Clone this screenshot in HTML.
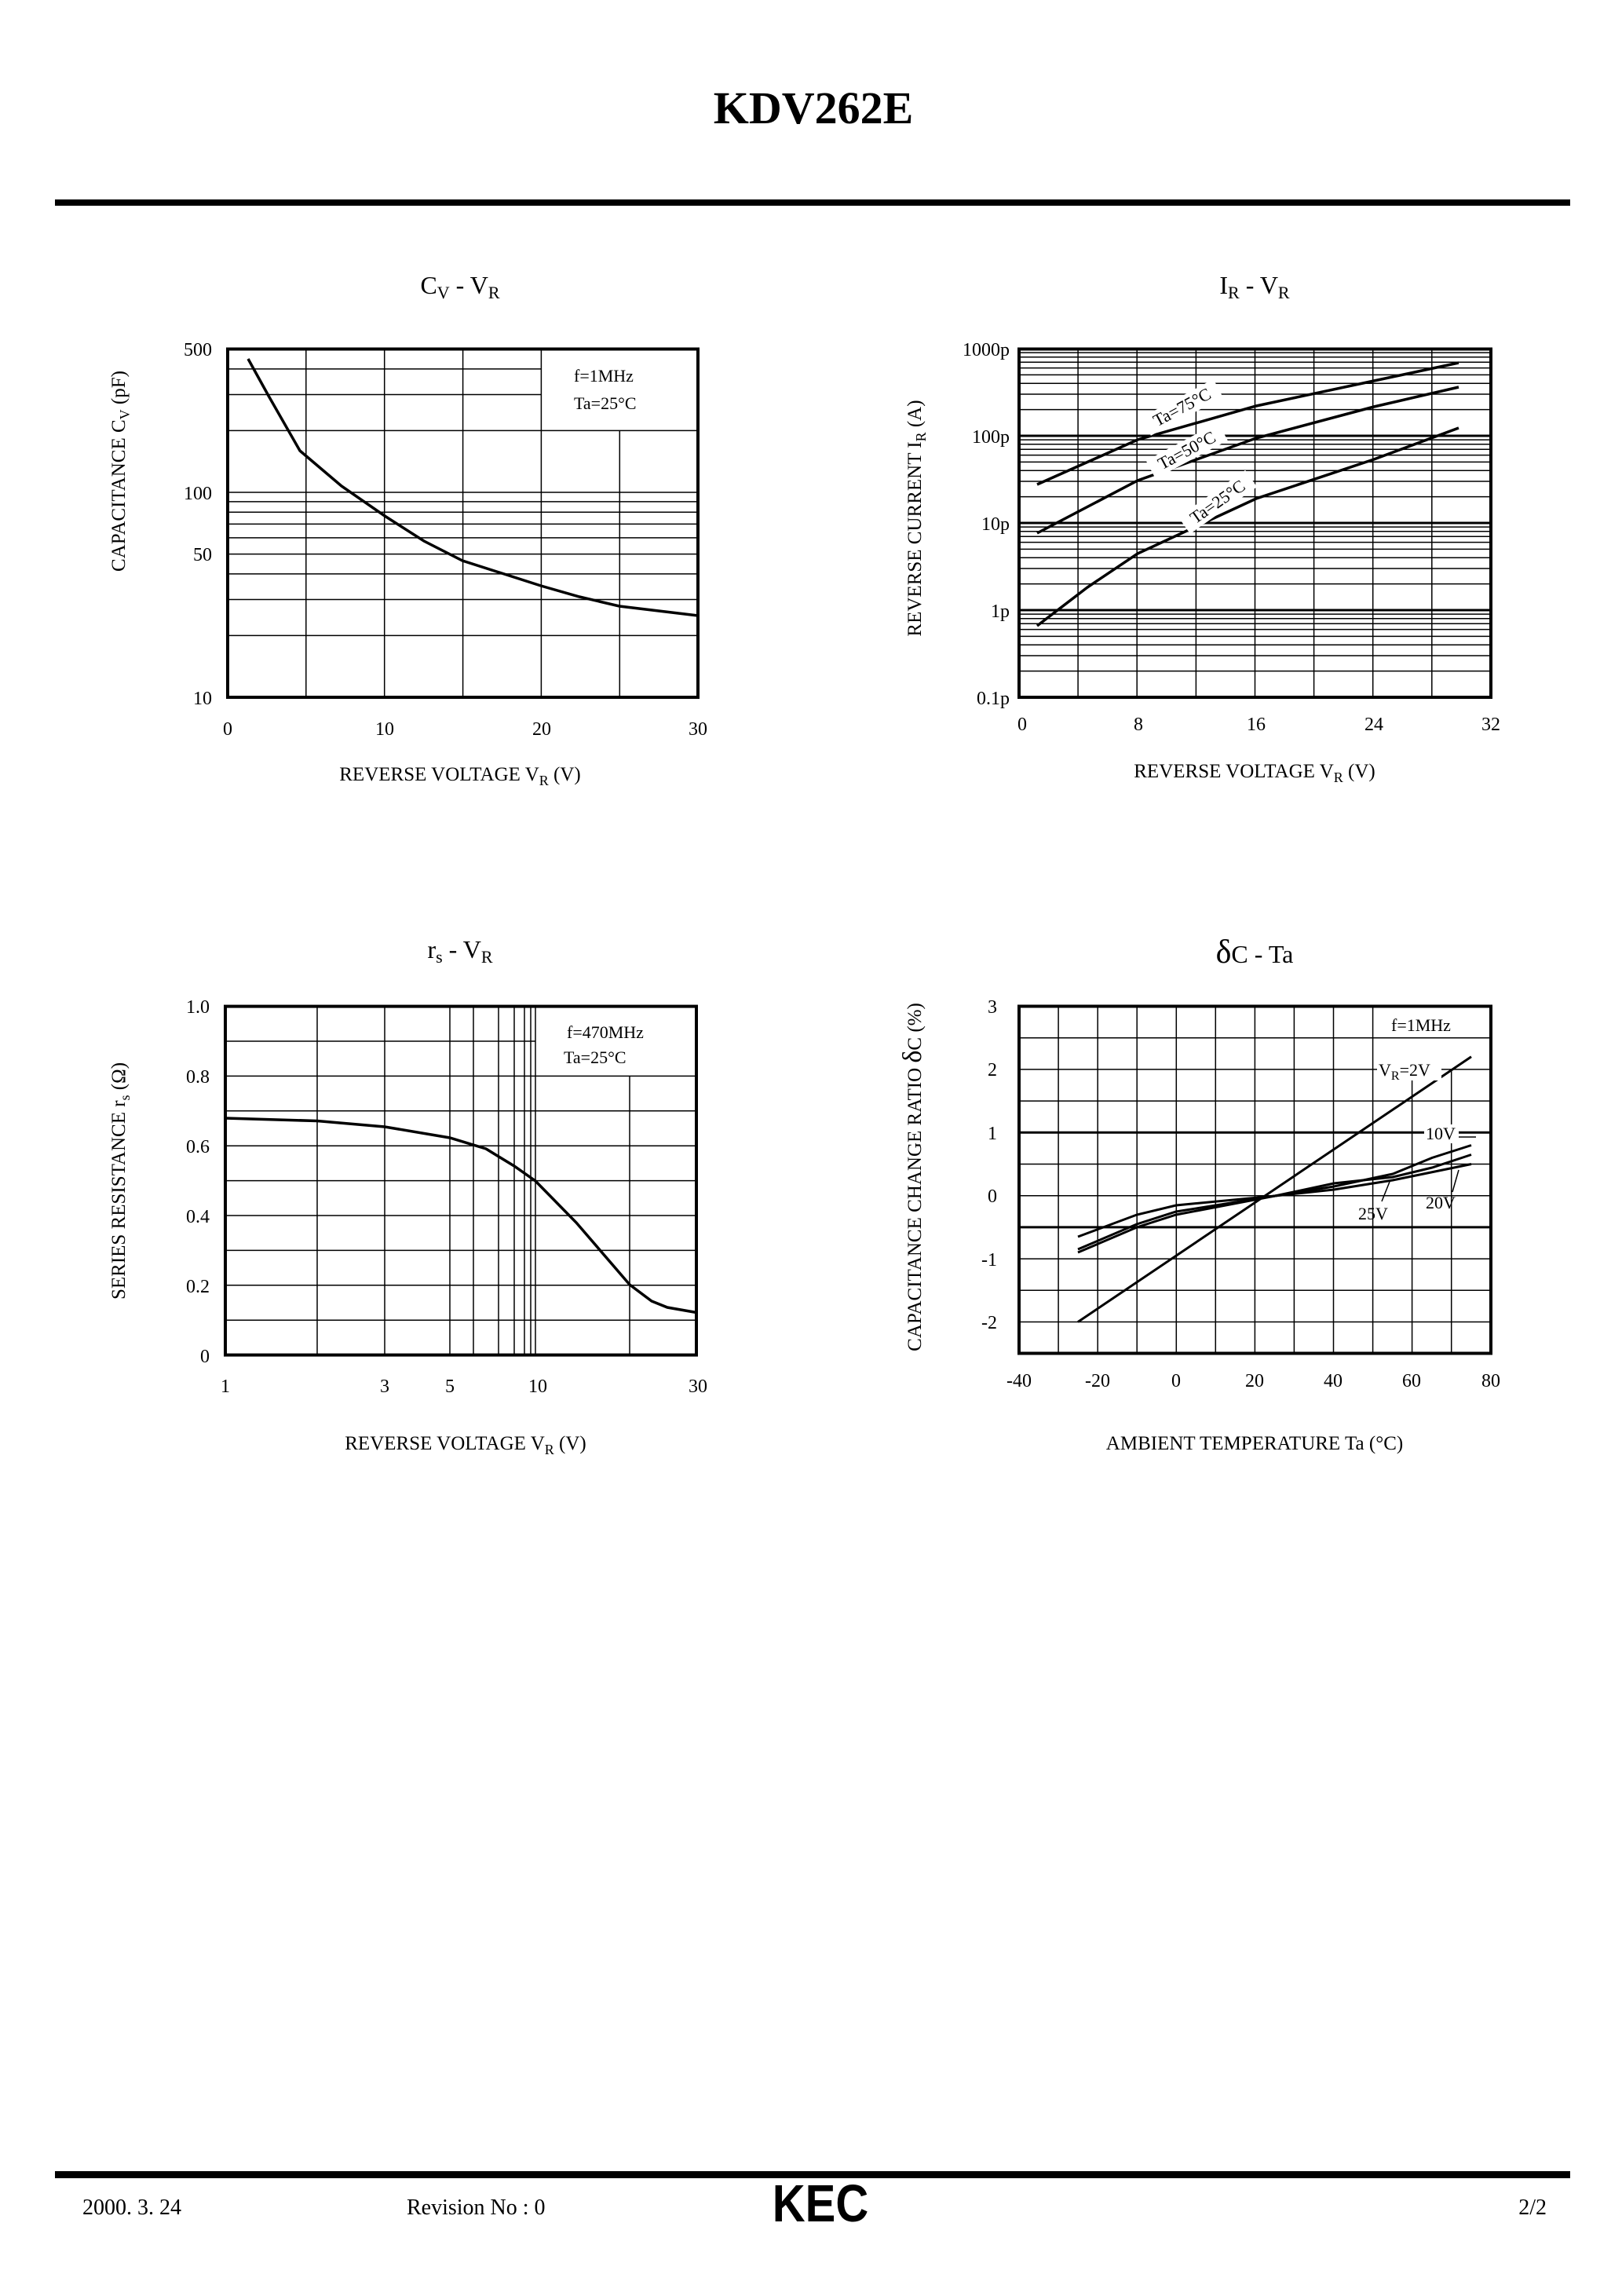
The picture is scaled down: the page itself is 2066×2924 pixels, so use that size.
<!DOCTYPE html>
<html><head><meta charset="utf-8"><style>
html,body{margin:0;padding:0;background:#fff;}
svg{display:block;}
text{font-family:"Liberation Serif",serif;fill:#000;}
</style></head><body>
<svg width="2066" height="2924" viewBox="0 0 2066 2924" xmlns="http://www.w3.org/2000/svg">
<rect width="2066" height="2924" fill="#fff"/>
<text x="1036" y="157" font-size="58" font-weight="bold" text-anchor="middle">KDV262E</text>
<rect x="70" y="254" width="1930" height="8" fill="#000"/>

<!-- Chart 1 -->
<text x="586" y="374" font-size="32" text-anchor="middle">C<tspan font-size="22" dy="6">V</tspan><tspan dy="-6">  -  V</tspan><tspan font-size="22" dy="6">R</tspan></text>
<g stroke="#000" stroke-width="1.5" fill="none">
<path d="M290 809.4H889M290 763.5H889M290 730.9H889M290 705.6H889M290 684.9H889M290 667.4H889M290 652.3H889M290 638.9H889M290 627H889M290 548.4H889M290 502.5H689M290 469.9H689"/>
<path d="M389.8 444V888M489.7 444V888M589.6 444V888M689.4 444V888M789.3 548V888"/>
</g>
<rect x="290" y="444.5" width="599" height="443.5" fill="none" stroke="#000" stroke-width="4"/>
<polyline fill="none" stroke="#000" stroke-width="3.5" points="316,457 342,504 382,574 435,619 490,657 540,689 589,714 689,746 738,760 789,772 889,784"/>
<text x="731" y="486" font-size="22">f=1MHz</text>
<text x="731" y="521" font-size="22">Ta=25°C</text>
<g font-size="24" text-anchor="end">
<text x="270" y="453">500</text><text x="270" y="636">100</text><text x="270" y="714">50</text><text x="270" y="897">10</text>
</g>
<g font-size="24" text-anchor="middle">
<text x="290" y="936">0</text><text x="490" y="936">10</text><text x="690" y="936">20</text><text x="889" y="936">30</text>
</g>
<text x="586" y="994" font-size="25" text-anchor="middle">REVERSE VOLTAGE V<tspan font-size="18" dy="6">R</tspan><tspan dy="-6">  (V)</tspan></text>
<text transform="translate(159,600) rotate(-90)" font-size="25" text-anchor="middle">CAPACITANCE C<tspan font-size="18" dy="6">V</tspan><tspan dy="-6">  (pF)</tspan></text>

<!-- Chart 2 -->
<text x="1598" y="374" font-size="32" text-anchor="middle">I<tspan font-size="22" dy="6">R</tspan><tspan dy="-6">  -  V</tspan><tspan font-size="22" dy="6">R</tspan></text>
<g stroke="#000" stroke-width="1.5" fill="none">
<path d="M1298 854.6H1899M1298 835H1899M1298 821.2H1899M1298 810.4H1899M1298 801.6H1899M1298 794.2H1899M1298 787.8H1899M1298 782.1H1899M1298 777H1899
M1298 743.6H1899M1298 724H1899M1298 710.2H1899M1298 699.4H1899M1298 690.6H1899M1298 683.2H1899M1298 676.8H1899M1298 671.1H1899M1298 666H1899
M1298 632.6H1899M1298 613H1899M1298 599.2H1899M1298 588.4H1899M1298 579.6H1899M1298 572.2H1899M1298 565.8H1899M1298 560.1H1899M1298 555H1899
M1298 521.6H1899M1298 502H1899M1298 488.2H1899M1298 477.4H1899M1298 468.6H1899M1298 461.2H1899M1298 454.8H1899M1298 449.1H1899"/>
<path d="M1373.1 444V888M1448.2 444V888M1523.4 444V888M1598.5 444V888M1673.6 444V888M1748.7 444V888M1823.8 444V888"/>
<path stroke-width="3" d="M1298 777H1899M1298 666H1899M1298 555H1899"/>
</g>
<rect x="1298" y="444.5" width="601" height="443.5" fill="none" stroke="#000" stroke-width="4"/>
<g fill="none" stroke="#000" stroke-width="3.5">
<polyline points="1321,617 1449,560 1600,517 1750,485 1858,462"/>
<polyline points="1321,679 1449,612 1600,558 1750,518 1858,493"/>
<polyline points="1321,797 1385,748 1449,705 1600,635 1750,585 1858,545"/>
</g>
<g font-size="22" text-anchor="middle">
<g transform="translate(1509,525) rotate(-28)"><rect x="-52" y="-20" width="104" height="26" fill="#fff"/><text>Ta=75°C</text></g>
<g transform="translate(1515,580) rotate(-28)"><rect x="-52" y="-20" width="104" height="26" fill="#fff"/><text>Ta=50°C</text></g>
<g transform="translate(1555,645) rotate(-35)"><rect x="-52" y="-20" width="104" height="26" fill="#fff"/><text>Ta=25°C</text></g>
</g>
<g font-size="24" text-anchor="end">
<text x="1286" y="453">1000p</text><text x="1286" y="564">100p</text><text x="1286" y="675">10p</text><text x="1286" y="786">1p</text><text x="1286" y="897">0.1p</text>
</g>
<g font-size="24" text-anchor="middle">
<text x="1302" y="930">0</text><text x="1450" y="930">8</text><text x="1600" y="930">16</text><text x="1750" y="930">24</text><text x="1899" y="930">32</text>
</g>
<text x="1598" y="990" font-size="25" text-anchor="middle">REVERSE VOLTAGE V<tspan font-size="18" dy="6">R</tspan><tspan dy="-6">  (V)</tspan></text>
<text transform="translate(1173,660) rotate(-90)" font-size="25" text-anchor="middle">REVERSE CURRENT I<tspan font-size="18" dy="6">R</tspan><tspan dy="-6">  (A)</tspan></text>

<!-- Chart 3 -->
<text x="586" y="1220" font-size="32" text-anchor="middle">r<tspan font-size="22" dy="6">s</tspan><tspan dy="-6">  -  V</tspan><tspan font-size="22" dy="6">R</tspan></text>
<g stroke="#000" stroke-width="1.5" fill="none">
<path d="M287 1681.2H887M287 1636.8H887M287 1592.4H887M287 1548H887M287 1503.6H887M287 1459.2H887M287 1414.8H887M287 1370.4H887M287 1326H682"/>
<path d="M404 1282V1726M490 1282V1726M573 1282V1726M603 1282V1726M635 1282V1726M655 1282V1726M668 1282V1726M676 1282V1726M682 1282V1726M802 1370V1726"/>
</g>
<rect x="287" y="1281.6" width="600" height="444" fill="none" stroke="#000" stroke-width="4"/>
<polyline fill="none" stroke="#000" stroke-width="3.5" points="287,1424 404,1427.5 490,1435 573,1449 619,1463 655,1485 682,1504 734,1557 802,1636 830,1657 850,1665 887,1671.5"/>
<text x="722" y="1322" font-size="22">f=470MHz</text>
<text x="718" y="1354" font-size="22">Ta=25°C</text>
<g font-size="24" text-anchor="end">
<text x="267" y="1290">1.0</text><text x="267" y="1379">0.8</text><text x="267" y="1468">0.6</text><text x="267" y="1557">0.4</text><text x="267" y="1646">0.2</text><text x="267" y="1735">0</text>
</g>
<g font-size="24" text-anchor="middle">
<text x="287" y="1773">1</text><text x="490" y="1773">3</text><text x="573" y="1773">5</text><text x="685" y="1773">10</text><text x="889" y="1773">30</text>
</g>
<text x="593" y="1846" font-size="25" text-anchor="middle">REVERSE VOLTAGE V<tspan font-size="18" dy="6">R</tspan><tspan dy="-6">  (V)</tspan></text>
<text transform="translate(159,1504) rotate(-90)" font-size="25" text-anchor="middle">SERIES RESISTANCE r<tspan font-size="18" dy="6">s</tspan><tspan dy="-6">  (Ω)</tspan></text>

<!-- Chart 4 -->
<text x="1598" y="1226" font-size="32" text-anchor="middle"><tspan font-size="42">δ</tspan>C  -  Ta</text>
<g stroke="#000" stroke-width="1.5" fill="none">
<path d="M1298 1683.5H1899M1298 1643.3H1899M1298 1603.1H1899M1298 1562.9H1899M1298 1522.7H1899M1298 1482.5H1899M1298 1442.3H1899M1298 1402.1H1899M1298 1361.9H1899M1298 1321.7H1899"/>
<path d="M1348.1 1281V1724M1398.2 1281V1724M1448.2 1281V1724M1498.3 1281V1724M1548.3 1281V1724M1598.4 1281V1724M1648.4 1281V1724M1698.5 1281V1724M1748.6 1281V1724M1798.6 1362V1724M1848.7 1362V1724"/>
<path stroke-width="3" d="M1298 1442.3H1899M1298 1562.9H1899"/>
</g>
<rect x="1298" y="1281.5" width="601" height="442" fill="none" stroke="#000" stroke-width="4"/>
<g fill="none" stroke="#000" stroke-width="3">
<polyline points="1373,1683.5 1874,1345.8"/>
<polyline points="1373,1575 1448,1547 1498,1535 1624,1523 1699,1511 1774,1495 1824,1474.5 1874,1458.5"/>
<polyline points="1373,1591 1448,1559 1498,1543 1624,1523 1699,1507 1774,1499 1824,1487 1874,1470.5"/>
<polyline points="1373,1595 1448,1563 1498,1547 1624,1523 1699,1515 1774,1503 1874,1482.5"/>
</g>
<g stroke="#000" stroke-width="1.5"><path d="M1795 1370V1352M1858 1448H1880M1850 1518L1858 1490M1760 1530L1770 1505"/></g>
<g font-size="22">
<rect x="1770" y="1294" width="92" height="24" fill="#fff"/>
<text x="1772" y="1313">f=1MHz</text>
<rect x="1754" y="1350" width="82" height="26" fill="#fff"/>
<text x="1756" y="1370">V<tspan font-size="16" dy="5">R</tspan><tspan dy="-5">=2V</tspan></text>
<rect x="1814" y="1432" width="44" height="24" fill="#fff"/>
<text x="1816" y="1451">10V</text>
<text x="1816" y="1539">20V</text>
<text x="1730" y="1553">25V</text>
</g>
<g font-size="24" text-anchor="end">
<text x="1270" y="1290">3</text><text x="1270" y="1370">2</text><text x="1270" y="1451">1</text><text x="1270" y="1531">0</text><text x="1270" y="1612">-1</text><text x="1270" y="1692">-2</text>
</g>
<g font-size="24" text-anchor="middle">
<text x="1298" y="1766">-40</text><text x="1398" y="1766">-20</text><text x="1498" y="1766">0</text><text x="1598" y="1766">20</text><text x="1698" y="1766">40</text><text x="1798" y="1766">60</text><text x="1899" y="1766">80</text>
</g>
<text x="1598" y="1846" font-size="25" text-anchor="middle">AMBIENT TEMPERATURE Ta (°C)</text>
<text transform="translate(1173,1499) rotate(-90)" font-size="25" text-anchor="middle">CAPACITANCE CHANGE RATIO  <tspan font-size="34">δ</tspan>C  (%)</text>

<!-- Footer -->
<rect x="70" y="2765" width="1930" height="9" fill="#000"/>
<g font-size="28">
<text x="105" y="2820">2000. 3. 24</text>
<text x="518" y="2820">Revision No : 0</text>
<text x="1970" y="2820" text-anchor="end">2/2</text>
</g>
<text x="1045" y="2829" font-size="58" font-weight="bold" text-anchor="middle" font-family="Liberation Sans" style="font-family:'Liberation Sans',sans-serif" transform="translate(1045,0) scale(1,1.15) translate(-1045,-369)">KEC</text>
</svg>
</body></html>
